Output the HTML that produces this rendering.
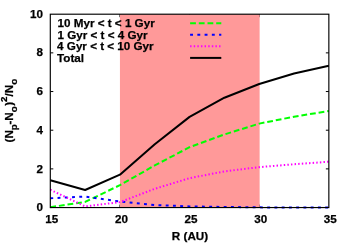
<!DOCTYPE html>
<html><head><meta charset="utf-8"><title>plot</title>
<style>
html,body{margin:0;padding:0;background:#fff;}
svg{display:block;}
text{font-family:"Liberation Sans",sans-serif;font-weight:bold;font-size:11.67px;fill:#000;stroke:#000;stroke-width:0.25px;}
</style></head><body>
<svg width="350" height="245" viewBox="0 0 350 245">
<rect x="0" y="0" width="350" height="245" fill="#fff"/>

<path d="M50.30 168.88h3.00 M328.85 168.88h-3.00 M50.30 130.21h3.00 M328.85 130.21h-3.00 M50.30 91.54h3.00 M328.85 91.54h-3.00 M50.30 52.87h3.00 M328.85 52.87h-3.00 M119.94 207.55v-3.00 M119.94 14.20v3.00 M189.57 207.55v-3.00 M189.57 14.20v3.00 M259.21 207.55v-3.00 M259.21 14.20v3.00" stroke="#000" stroke-width="1" fill="none"/>
<rect x="119.94" y="14.20" width="139.68" height="193.35" fill="#ff9999"/>
<polyline points="50.30,207.16 85.12,201.94 119.94,185.12 154.76,165.40 189.57,147.22 224.39,134.46 259.21,123.64 294.03,116.68 328.85,111.07" fill="none" stroke="#00ff00" stroke-width="2" stroke-dasharray="5.80 2.90" stroke-linejoin="round"/>
<polyline points="50.30,198.27 85.12,196.53 119.94,201.56 154.76,205.04 189.57,206.39 224.39,206.97 259.21,207.36 294.03,207.55 328.85,207.55" fill="none" stroke="#0000ff" stroke-width="2" stroke-dasharray="2.90 4.35" stroke-linejoin="round"/>
<polyline points="50.30,189.76 85.12,206.39 119.94,202.14 154.76,188.80 189.57,178.16 224.39,171.39 259.21,167.14 294.03,164.24 328.85,161.73" fill="none" stroke="#ff00ff" stroke-width="2" stroke-dasharray="1.45 2.17" stroke-linejoin="round"/>
<polyline points="50.30,180.29 85.12,189.96 119.94,174.68 154.76,144.32 189.57,116.87 224.39,97.73 259.21,84.00 294.03,73.56 328.85,65.82" fill="none" stroke="#000" stroke-width="2" stroke-linejoin="round"/>
<path d="M190.10 23.20H221.30" stroke="#00ff00" stroke-width="2" fill="none" stroke-dasharray="5.80 2.90"/>
<path d="M190.10 34.70H221.30" stroke="#0000ff" stroke-width="2" fill="none" stroke-dasharray="2.90 4.35"/>
<path d="M190.10 46.30H221.30" stroke="#ff00ff" stroke-width="2" fill="none" stroke-dasharray="1.45 2.17"/>
<path d="M190.10 57.90H221.30" stroke="#000" stroke-width="2" fill="none"/>
<rect x="50.30" y="14.20" width="278.55" height="193.35" fill="none" stroke="#000" stroke-width="1.15"/>
<text x="57.50" y="27.00">10 Myr &lt; t &lt; 1 Gyr</text>
<text x="57.50" y="38.65">1 Gyr &lt; t &lt; 4 Gyr</text>
<text x="57.10" y="50.00">4 Gyr &lt; t &lt; 10 Gyr</text>
<text x="57.10" y="61.70">Total</text>
<text x="42.9" y="211.40" text-anchor="end">0</text>
<text x="42.9" y="172.93" text-anchor="end">2</text>
<text x="42.9" y="134.01" text-anchor="end">4</text>
<text x="42.9" y="95.24" text-anchor="end">6</text>
<text x="42.9" y="56.37" text-anchor="end">8</text>
<text x="42.9" y="18.30" text-anchor="end">10</text>
<text x="51.80" y="223.2" text-anchor="middle">15</text>
<text x="121.44" y="223.2" text-anchor="middle">20</text>
<text x="191.07" y="223.2" text-anchor="middle">25</text>
<text x="260.71" y="223.2" text-anchor="middle">30</text>
<text x="330.35" y="223.2" text-anchor="middle">35</text>
<text x="190" y="240" text-anchor="middle">R (AU)</text>
<text transform="translate(12.5,142.45) rotate(-90)" x="0" y="0">(N<tspan font-size="9.80px" dy="4.20">p</tspan><tspan dx="-0.4" dy="-4.20">-N</tspan><tspan font-size="9.80px" dy="4.20">o</tspan><tspan dx="0.4" dy="-4.20">)</tspan><tspan font-size="9.80px" dy="-5.60">2</tspan><tspan dy="5.60">/N</tspan><tspan font-size="9.80px" dy="4.20">o</tspan></text>
</svg></body></html>
